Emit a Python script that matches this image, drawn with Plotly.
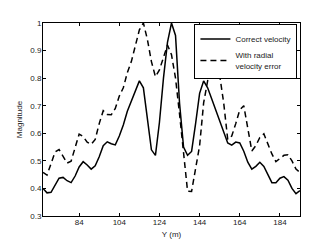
import plotly.graph_objects as go

y_pos = [66, 68, 70, 72, 74, 76, 78, 80, 82, 84, 86, 88, 90, 92, 94, 96, 98, 100,
         102, 104, 106, 108, 110, 112, 114, 116, 118, 120, 122, 124, 126, 128, 130,
         132, 134, 136, 138, 140, 142, 144, 146, 148, 150, 152, 154, 156, 158, 160,
         162, 164, 166, 168, 170, 172, 174, 176, 178, 180, 182, 184, 186, 188, 190,
         192, 194]

correct_velocity = [0.400, 0.384, 0.386, 0.410, 0.437, 0.440, 0.428, 0.421, 0.445, 0.478,
                    0.497, 0.485, 0.470, 0.482, 0.515, 0.555, 0.569, 0.562, 0.558, 0.590,
                    0.630, 0.680, 0.718, 0.750, 0.790, 0.765, 0.650, 0.540, 0.520, 0.640,
                    0.800, 0.930, 1.000, 0.955, 0.710, 0.550, 0.520, 0.534, 0.635, 0.745,
                    0.790, 0.765, 0.725, 0.685, 0.645, 0.600, 0.565, 0.557, 0.568, 0.565,
                    0.535, 0.495, 0.470, 0.480, 0.495, 0.480, 0.450, 0.421, 0.421, 0.437,
                    0.443, 0.430, 0.400, 0.381, 0.392]

radial_error = [0.458, 0.448, 0.490, 0.532, 0.541, 0.515, 0.492, 0.499, 0.550, 0.597,
                0.588, 0.568, 0.560, 0.578, 0.635, 0.682, 0.668, 0.667, 0.690, 0.735,
                0.765, 0.820, 0.860, 0.920, 0.975, 1.000, 0.940, 0.860, 0.805, 0.830,
                0.875, 0.920, 0.885, 0.800, 0.670, 0.516, 0.390, 0.389, 0.470, 0.555,
                0.710, 0.790, 0.845, 0.861, 0.810, 0.710, 0.578, 0.590, 0.635, 0.685,
                0.700, 0.610, 0.536, 0.555, 0.585, 0.598, 0.560, 0.525, 0.497, 0.507,
                0.520, 0.522, 0.500, 0.470, 0.458]

x_ticks = [84, 104, 124, 144, 164, 184]
y_ticks = [0.3, 0.4, 0.5, 0.6, 0.7, 0.8, 0.9, 1.0]

fig = go.Figure()
fig.add_trace(go.Scatter(x=y_pos, y=correct_velocity, mode="lines",
                         name="Correct velocity",
                         line=dict(color="black", width=1.5)))
fig.add_trace(go.Scatter(x=y_pos, y=radial_error, mode="lines",
                         name="With radial<br>velocity error",
                         line=dict(color="black", width=1.5, dash="6px,4px")))

axis_common = dict(showline=True, linecolor="black", linewidth=1, mirror="ticks",
                   ticks="inside", ticklen=3, tickcolor="black", showgrid=False,
                   zeroline=False, tickfont=dict(family="Liberation Sans", size=8, color="#222"))

fig.update_xaxes(range=[66, 194], tickvals=x_ticks, ticktext=[str(t) for t in x_ticks],
                 ticklabelstandoff=-2,
                 title=dict(text="Y (m)", font=dict(family="Liberation Sans", size=8, color="#222"),
                            standoff=5),
                 **axis_common)
fig.update_yaxes(range=[0.3, 1.0], tickvals=y_ticks,
                 ticktext=["0.3", "0.4", "0.5", "0.6", "0.7", "0.8", "0.9", "1"],
                 ticklabelstandoff=-1,
                 title=dict(text="Magnitude", font=dict(family="Liberation Sans", size=8, color="#222"),
                            standoff=6),
                 **axis_common)

fig.update_layout(
    width=324, height=240,
    margin=dict(l=35, r=32, t=11, b=28),
    paper_bgcolor="white", plot_bgcolor="white",
    showlegend=True,
    legend=dict(x=0.99, xanchor="right", y=0.997, yanchor="top",
                bordercolor="black", borderwidth=1, bgcolor="white",
                font=dict(family="Liberation Sans", size=8, color="#222"),
                tracegroupgap=0, itemwidth=30),
)

fig.write_html("out.html")
